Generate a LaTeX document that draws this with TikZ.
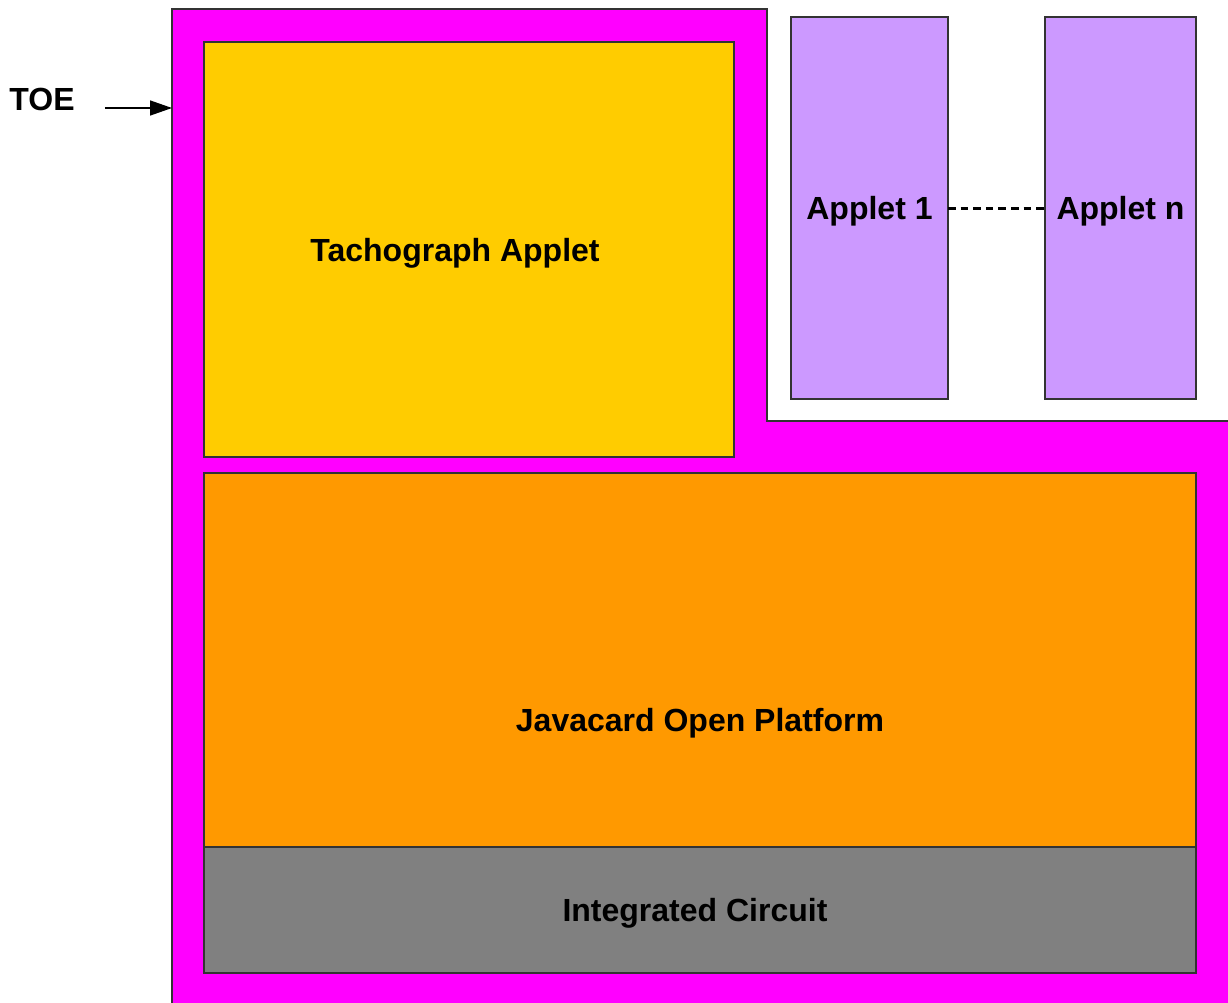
\documentclass[tikz,border=0pt]{standalone}
\usepackage{fontspec}
\setmainfont{Liberation Sans}
\usetikzlibrary{arrows.meta}
\definecolor{toemagenta}{HTML}{FF00FF}
\definecolor{tachoyellow}{HTML}{FFCC00}
\definecolor{appletlilac}{HTML}{CC99FF}
\definecolor{jcoporange}{HTML}{FF9900}
\definecolor{icgray}{HTML}{808080}

\begin{document}
\begin{tikzpicture}[x=1pt, y=-1pt,
  every node/.style={font=\fontsize{32}{38}\selectfont\bfseries, outer sep=0pt},
  box/.style={draw=black!80, line width=1.5pt, inner sep=0pt, text depth=0pt},
  arr/.style={line width=1.5pt, -{Triangle[length=22pt,width=15pt]}},
  dashline/.style={line width=3pt, dash pattern=on 7.5pt off 5.1pt}]
\useasboundingbox (0,0) rectangle (1228,1003);
\clip (0,0) rectangle (1228,1003);

% TOE outline
\filldraw[fill=toemagenta, draw=black!80, line width=1.5pt]
  (172,9) -- (767,9) -- (767,421) -- (1240,421) -- (1240,1012) -- (172,1012) -- cycle;
\coordinate (toein) at (172,108);

\node[box, fill=tachoyellow, minimum width=530, minimum height=415,
  label={[text depth=0pt, xshift=-14pt]center:Tachograph Applet}] (tacho) at (469,249.5) {};
\node[box, fill=appletlilac, minimum width=157, minimum height=382] (applet1) at (869.5,208) {Applet 1};
\node[box, fill=appletlilac, minimum width=151, minimum height=382] (appletn) at (1120.5,208) {Applet n};
\node[box, fill=jcoporange, minimum width=992, minimum height=374,
  label={[text depth=0pt, yshift=-60pt]center:Javacard Open Platform}] (jcop) at (700,660) {};
\node[box, fill=icgray, minimum width=992, minimum height=126,
  label={[text depth=0pt, xshift=-5pt]center:Integrated Circuit}] (ic) at (700,910) {};

\node (toe) at (42,99) {TOE};

\draw[dashline] (applet1) -- (appletn);
\draw[arr, shorten <=27pt] (toe.east |- toein) -- (toein);
\end{tikzpicture}
\end{document}
